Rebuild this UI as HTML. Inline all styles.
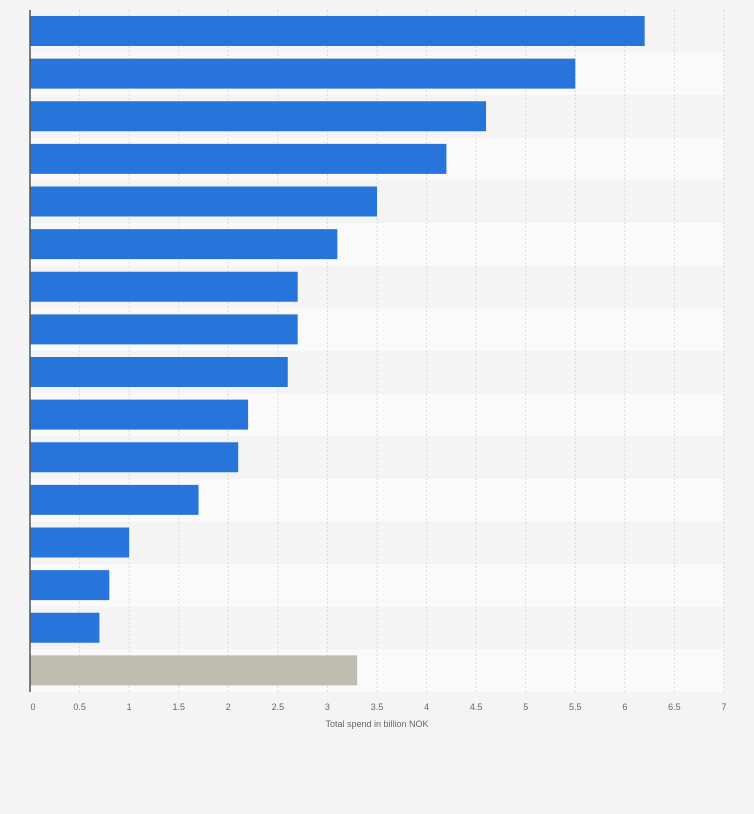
<!DOCTYPE html>
<html><head><meta charset="utf-8"><style>
body{margin:0;background:#f4f4f4;font-family:"Liberation Sans",sans-serif}
</style></head><body>
<svg id="chart" width="754" height="809" xmlns="http://www.w3.org/2000/svg"></svg>
<script>
const values=[6.2,5.5,4.6,4.2,3.5,3.1,2.7,2.7,2.6,2.2,2.1,1.7,1.0,0.8,0.7,3.3];
const highlight=[0,0,0,0,0,0,0,0,0,0,0,0,0,0,0,1];
const ticks=[0,0.5,1,1.5,2,2.5,3,3.5,4,4.5,5,5.5,6,6.5,7];
const tickLabels=["0","0.5","1","1.5","2","2.5","3","3.5","4","4.5","5","5.5","6","6.5","7"];
const svg=document.getElementById('chart');
const NS="http://www.w3.org/2000/svg";
const x0=30,xMax=7,pw=694,plotTop=10,plotBottom=692;
const rowH=(plotBottom-plotTop)/values.length;
const x=v=>x0+v/xMax*pw;
const y=i=>plotTop+i*rowH;
function mk(t,a){const e=document.createElementNS(NS,t);for(const k in a)e.setAttribute(k,a[k]);svg.appendChild(e);return e;}
values.forEach((v,i)=>{
 const r=mk('rect',{x:x0,y:y(i),width:pw,height:rowH,fill:i%2?'#fafafa':'#f4f4f4'});
 
 
});
ticks.forEach((t,i)=>{
 if(i>0){const l=mk('line',{x1:x(t),x2:x(t),y1:plotTop,y2:plotBottom,stroke:'#dcdcdc','stroke-dasharray':'2,2'});
 
 }
 const tx=mk('text',{x:x(t)+(i==0?3:0),y:710,'font-size':9,fill:'#666','text-anchor':'middle'});
 tx.textContent=tickLabels[i];
 
 
});
values.forEach((v,i)=>{
 const b=mk('rect',{x:x0,y:y(i)+6,width:x(v)-x0,height:30,fill:highlight[i]?'#bfbcb0':'#2775db'});
 
 
});
const ax=mk('line',{x1:x0,x2:x0,y1:plotTop,y2:plotBottom,stroke:'#555','stroke-width':1.5});


const tt=mk('text',{x:377,y:727,'font-size':9,fill:'#666','text-anchor':'middle'});
tt.textContent='Total spend in billion NOK';


</script>
</body></html>
